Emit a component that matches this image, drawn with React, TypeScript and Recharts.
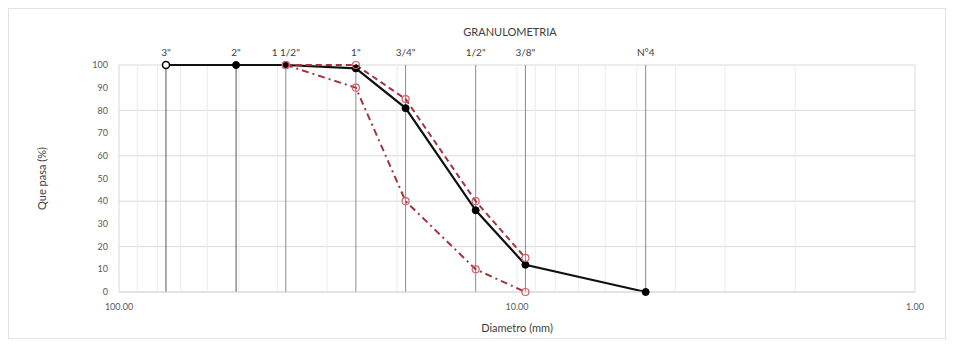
import { LineChart, Line, XAxis, YAxis, CartesianGrid, ReferenceLine } from 'recharts'

// sieve openings (mm) and their names
const sieveSizes = [76.2, 50.8, 38.1, 25.4, 19.05, 12.7, 9.525, 4.75]
const sieveNames = ['3"', '2"', '1 1/2"', '1"', '3/4"', '1/2"', '3/8"', 'N°4']

// % passing
const muestra = [100, 100, 100, 98.5, 81, 36, 12, 0]
const limiteSup = [null, null, 100, 100, 85, 40, 15, null]
const limiteInf = [null, null, 100, 90, 40, 10, 0, null]

const xTicks = [100, 10, 1]
const yTicks = [0, 10, 20, 30, 40, 50, 60, 70, 80, 90, 100]
const minorGrid = [90, 80, 70, 60, 50, 40, 30, 20, 10, 9, 8, 7, 6, 5, 4, 3, 2]

const toSeries = (vals: (number | null)[]) =>
  sieveSizes
    .map((d, i) => ({ d, p: vals[i] }))
    .filter((r) => r.p !== null)

const muestraData = toSeries(muestra)
const supData = toSeries(limiteSup)
const infData = toSeries(limiteInf)

const font = 'Lato, "Open Sans", sans-serif'

function BlackDot(props: any) {
  const { cx, cy, index, payload } = props
  const hollow = payload.d === sieveSizes[0]
  return (
    <circle
      key={`b-${index}`}
      cx={cx}
      cy={cy}
      r={3.5}
      fill={hollow ? '#fff' : '#000'}
      stroke='#000'
      strokeWidth={hollow ? 1.5 : 1}
    />
  )
}

function RedDot(props: any) {
  const { cx, cy, index } = props
  return <circle key={`r-${index}`} cx={cx} cy={cy} r={3.5} fill='none' stroke='#d0606a' strokeWidth={1.2} />
}

export default function App() {
  return (
    <div style={{ position: 'relative', width: 936, height: 329, border: '1px solid #e2e2e2', fontFamily: font }}>
      <div
        style={{
          position: 'absolute',
          top: 16,
          left: 0,
          width: 1002,
          textAlign: 'center',
          fontSize: 11,
          color: '#404040',
        }}
      >
        GRANULOMETRIA
      </div>
      <LineChart width={936} height={329} margin={{ top: 56, right: 30, bottom: 6, left: 30 }}>
        <CartesianGrid vertical={false} stroke='#d9d9d9' />
        {minorGrid.map((v) => (
          <ReferenceLine key={`g-${v}`} x={v} stroke='#ececec' />
        ))}
        <ReferenceLine x={100} stroke='#d9d9d9' />
        <ReferenceLine x={1} stroke='#d9d9d9' />
        <XAxis
          dataKey='d'
          type='number'
          scale='log'
          domain={[1, 100]}
          reversed
          allowDataOverflow
          ticks={xTicks}
          tickFormatter={(v: number) => v.toFixed(2)}
          tickLine={false}
          tickSize={0}
          tickMargin={12}
          height={40}
          stroke='#d9d9d9'
          tick={{ fill: '#595959', fontSize: 9, fontFamily: font }}
          label={{ value: 'Diametro (mm)', position: 'insideBottom', offset: 0, fill: '#404040', fontSize: 11, fontFamily: font }}
        />
        <YAxis
          type='number'
          domain={[0, 100]}
          ticks={yTicks}
          tickLine={false}
          axisLine={false}
          tickSize={0}
          tickMargin={11}
          width={80}
          tick={{ fill: '#595959', fontSize: 9, fontFamily: font }}
          label={{
            value: 'Que pasa (%)',
            angle: -90,
            position: 'insideLeft',
            offset: 3,
            fill: '#404040',
            fontSize: 11,
            fontFamily: font,
            style: { textAnchor: 'middle' },
          }}
        />
        {sieveSizes.map((s, i) => (
          <ReferenceLine
            key={`s-${i}`}
            x={s}
            stroke={i < 2 ? '#555' : '#8a8a8a'}
            strokeWidth={1}
            label={{ value: sieveNames[i], position: 'top', offset: 9, fill: '#404040', fontSize: 10, fontFamily: font }}
          />
        ))}
        <Line
          data={muestraData}
          dataKey='p'
          stroke='#111'
          strokeWidth={2.2}
          dot={BlackDot}
          activeDot={false}
          isAnimationActive={false}
        />
        <Line
          data={supData}
          dataKey='p'
          stroke='#a3333d'
          strokeWidth={2}
          strokeDasharray='6 4'
          dot={RedDot}
          activeDot={false}
          isAnimationActive={false}
        />
        <Line
          data={infData}
          dataKey='p'
          stroke='#a3333d'
          strokeWidth={2}
          strokeDasharray='7 4 2 4'
          dot={RedDot}
          activeDot={false}
          isAnimationActive={false}
        />
      </LineChart>
    </div>
  )
}
